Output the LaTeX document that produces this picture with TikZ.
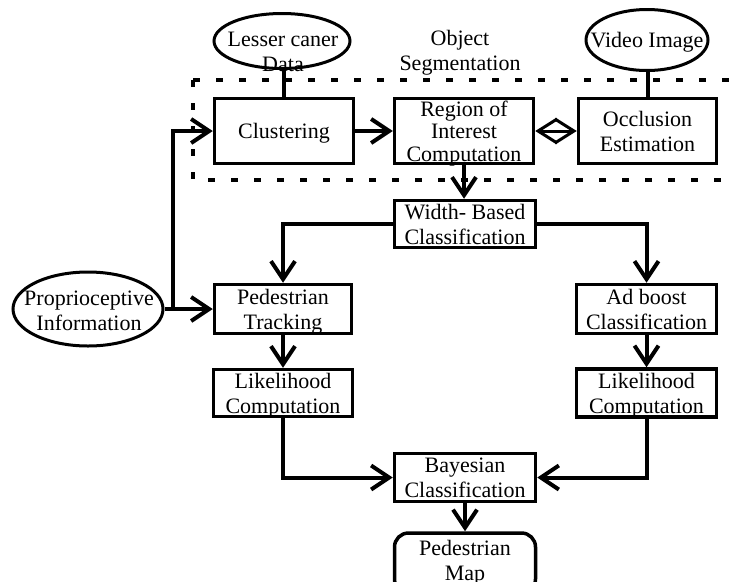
\documentclass[tikz,border=0pt]{standalone}
\usepackage{fontspec}
\setmainfont{Liberation Serif}
\usetikzlibrary{arrows.meta,shapes.geometric}
\begin{document}
\begin{tikzpicture}[x=1pt,y=-1pt,
  box/.style={draw, line width=3.5pt, rectangle, inner sep=0pt, align=center, text depth=0pt, font=\fontsize{22}{25}\selectfont},
  oval/.style={draw, line width=3pt, ellipse, inner sep=0pt},
  txt/.style={align=center, font=\fontsize{22}{25}\selectfont, inner sep=0pt},
  conn/.style={line width=4pt},
  arr/.style={conn, -{Straight Barb[length=18pt,width=24pt]}},
  darr/.style={line width=3pt, {Straight Barb[length=19pt,width=24pt]}-{Straight Barb[length=19pt,width=24pt]}},
  seg/.style={line width=4pt, dash pattern=on 7pt off 16pt},
]
\useasboundingbox (0,0) rectangle (730,581);
\clip (0,0) rectangle (730,581);
% dashed group frame
\draw[seg] (193,80) -- (740,80);
\draw[seg] (193,80) -- (193,180) -- (740,180);
\node[txt] (segtxt) at (460,53) {Object\\Segmentation};
% boxes
\node[box, minimum width=139pt, minimum height=65pt] (clus) at (284,131) {Clustering};
\node[box, minimum width=139pt, minimum height=65pt, font=\fontsize{22}{22.5}\selectfont] (roi) at (464,131) {Region of\\Interest\\Computation};
\node[box, minimum width=138pt, minimum height=65pt] (occ) at (647.5,131) {Occlusion\\Estimation};
\node[box, minimum width=141pt, minimum height=47pt] (wbc) at (465,224) {Width- Based\\Classification};
\node[box, minimum width=137pt, minimum height=49pt] (ped) at (283,309) {Pedestrian\\Tracking};
\node[box, minimum width=140pt, minimum height=49pt] (ada) at (646.5,309) {Ad boost\\Classification};
\node[box, minimum width=139pt, minimum height=47pt] (likL) at (283,393) {Likelihood\\Computation};
\node[box, minimum width=140pt, minimum height=48pt] (likR) at (646.5,393) {Likelihood\\Computation};
\node[box, minimum width=141pt, minimum height=48pt] (bay) at (465,477.5) {Bayesian\\Classification};
\node[box, text depth=, rounded corners=14pt, minimum width=141pt, minimum height=60pt] (map) at (465,563) {Pedestrian\\Map};
% ellipses
\node[oval, minimum width=136pt, minimum height=55pt] (les) at (282,41) {};
\node[txt] (lestxt) at (283,52) {Lesser caner\\Data};
\node[oval, minimum width=122pt, minimum height=61pt] (vid) at (647,40) {};
\node[txt] (vidtxt) at (647,42) {Video Image};
\node[oval, minimum width=150pt, minimum height=74pt] (pro) at (88,309) {};
\node[txt] (protxt) at (89,311) {Proprioceptive\\Information};
% connectors
\draw[conn] (clus.north) -- (clus.north |- les.south);
\draw[conn] (occ.north) -- (occ.north |- vid.south);
\coordinate (j) at (173,309);
\draw[arr] (pro.east) -- (ped.west);
\draw[arr] (j) |- (clus.west);
\draw[arr] (clus) -- (roi);
\draw[darr] (roi.east) -- (occ.west);
\draw[arr] (roi.south) -- (roi.south |- wbc.north);
\draw[arr] (wbc.west) -| (ped.north);
\draw[arr] (wbc.east) -| (ada.north);
\draw[arr] (ped.south) -- (ped.south |- likL.north);
\draw[arr] (ada.south) -- (ada.south |- likR.north);
\draw[arr] (likL.south) |- (bay.west);
\draw[arr] (likR.south) |- (bay.east);
\draw[arr] (bay.south) -- (bay.south |- map.north);
\end{tikzpicture}
\end{document}
